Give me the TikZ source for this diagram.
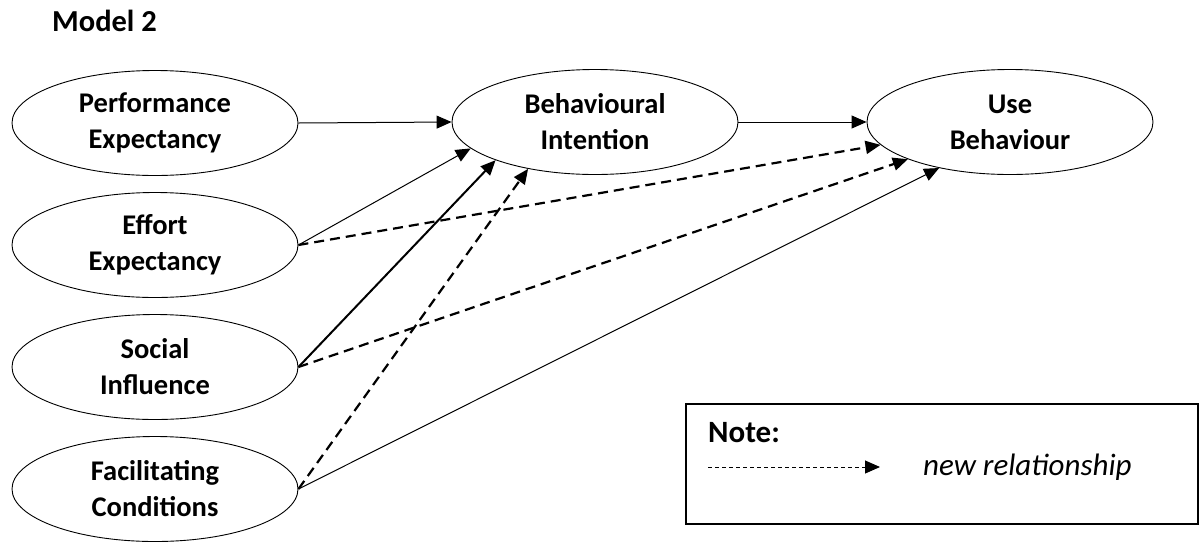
\documentclass[tikz,border=0pt]{standalone}
\usepackage{fontspec}
\setmainfont{Carlito}
\usetikzlibrary{arrows.meta,shapes.geometric}
\begin{document}
\begin{tikzpicture}[x=1pt,y=-1pt,
  lbl/.style={font=\fontsize{28.5}{36}\selectfont\bfseries, align=center},
  ell/.style={draw, ellipse, lbl, minimum width=286pt, minimum height=105pt, inner sep=0pt, line width=0.9pt},
  tip/.style={-{Triangle[length=15pt,width=13pt]}},
  relthin/.style={tip, line width=1pt},
  relthick/.style={tip, line width=2pt},
  relnew/.style={tip, line width=2.2pt, dash pattern=on 10pt off 6pt}]
\useasboundingbox (0,0) rectangle (1200,542);
\node[font=\fontsize{30.5}{36}\selectfont\bfseries, anchor=west, inner sep=0pt] (title) at (52,21) {Model 2};
\node[ell] (pe) at (155,123) {Performance\\Expectancy};
\node[ell] (ee) at (155,245) {Effort\\Expectancy};
\node[ell] (si) at (155,367) {Social\\Influence};
\node[ell] (fc) at (155,489) {Facilitating\\Conditions};
\node[ell] (bi) at (595,122) {Behavioural\\Intention};
\node[ell] (ub) at (1010,122) {Use\\Behaviour};
\draw[relthin] (pe.east) -- (bi.west);
\draw[relthin] (bi.east) -- (ub.west);
\draw[relthin] (ee.east) -- (bi.192);
\draw[relthick] (si.east) -- (bi.201);
\draw[relnew] (fc.east) -- (bi.215);
\draw[relnew] (ee.east) -- (ub.190);
\draw[relnew] (si.east) -- (ub.200);
\draw[relthin] (fc.east) -- (ub.213);
\node[draw, line width=2pt, minimum width=512pt, minimum height=120pt, anchor=north west, inner sep=0pt] (note) at (685,403) {};
\node[font=\fontsize{31}{36}\selectfont\bfseries, anchor=west, inner sep=0pt] (notet) at (708,433) {Note:};
\coordinate (la) at (708,467);
\coordinate (lb) at (880,467);
\draw[tip, line width=1pt, dash pattern=on 4pt off 3pt] (la) -- (lb);
\node[anchor=west, inner sep=0pt, font=\fontsize{31}{36}\selectfont\itshape] (newrel) at (923,467) {new relationship};
\end{tikzpicture}
\end{document}
